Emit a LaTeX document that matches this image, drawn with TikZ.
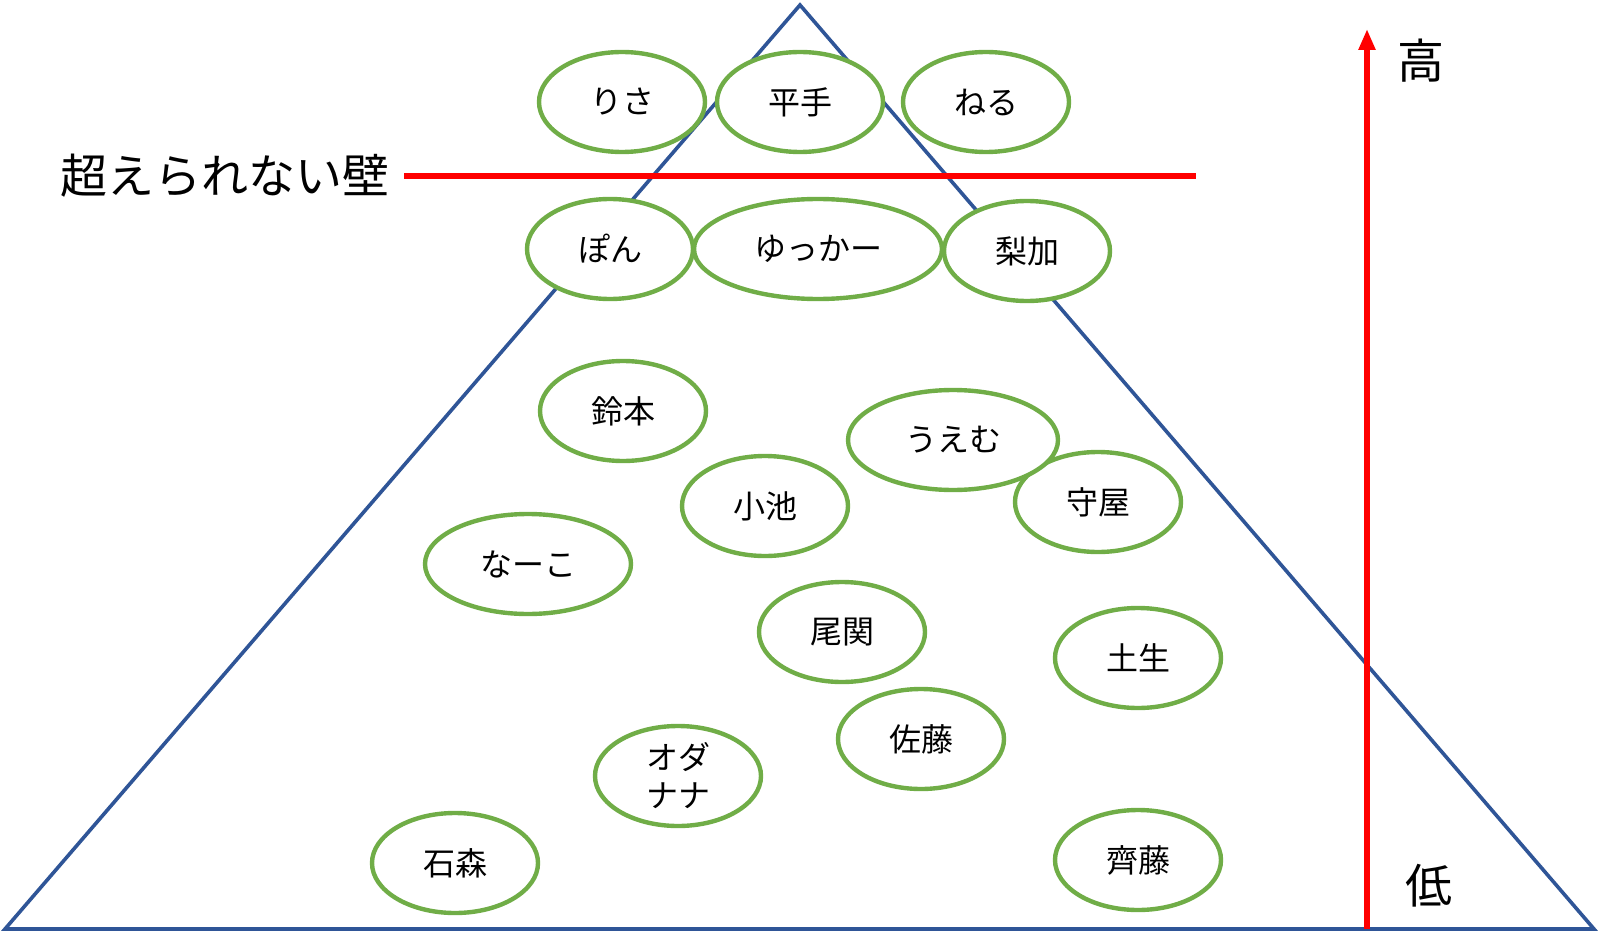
\documentclass[tikz,border=0pt]{standalone}
\usepackage{fontspec}
\setmainfont{Noto Sans CJK JP}
\usetikzlibrary{arrows.meta, shapes.geometric}

\definecolor{triblue}{HTML}{2F5597}
\definecolor{ringgreen}{HTML}{70AD47}
\tikzset{
  member/.style={ellipse, draw=ringgreen, line width=2.2pt, fill=white,
    minimum width=83pt, minimum height=50pt, inner sep=0pt, font=\fontsize{16}{19}\selectfont},
  wide/.style={minimum width=#1},
  bigtext/.style={font=\fontsize{23.5}{28}\selectfont, inner sep=0pt}
}

\begin{document}
\begin{tikzpicture}[x=0.5pt, y=-0.5pt]
\useasboundingbox (0,0) rectangle (1600,952);

% the pyramid
\coordinate (top) at (800,5);
\coordinate (left) at (5,929);
\coordinate (right) at (1594,929);
\draw[triblue, line width=1.8pt, line join=miter] (top) -- (left) -- (right) -- cycle;

% the wall
\node[bigtext] (wall) at (225,176) {超えられない壁};
\coordinate (wallstart) at (404,176);
\coordinate (wallend) at (1196,176);
\draw[red, line width=3pt] (wallstart) -- (wallend);

% members, edit here for the positions
\foreach \name/\x/\y/\txt in {risa/622/102/りさ, hirate/800/102/平手, neru/986/102/ねる,
  pon/610/249/ぽん, rika/1027/251/梨加, suzumoto/623/411/鈴本, koike/765/506/小池,
  moriya/1098/502/守屋, ozeki/842/632/尾関, habu/1138/658/土生, sato/921/739/佐藤,
  ishimori/455/863/石森, saito/1138/860/齊藤}
\node[member] (\name) at (\x,\y) {\txt};
\node[member, wide=124pt] (yukka) at (818,249) {ゆっかー};
\node[member, wide=105pt] (uemu) at (953,440) {うえむ};
\node[member, wide=103pt] (nako) at (528,564) {なーこ};
\node[member, align=center] (odanana) at (678,776) {オダ\\ナナ};

% high / low axis
\coordinate (low) at (1367,929);
\coordinate (high) at (1367,29);
\draw[red, line width=3pt, -{Triangle[length=10.5pt, width=8pt]}] (low) -- (high);
\node[bigtext] (hightxt) at (1421,61) {高};
\node[bigtext] (lowtxt) at (1429,886) {低};

\end{tikzpicture}
\end{document}
